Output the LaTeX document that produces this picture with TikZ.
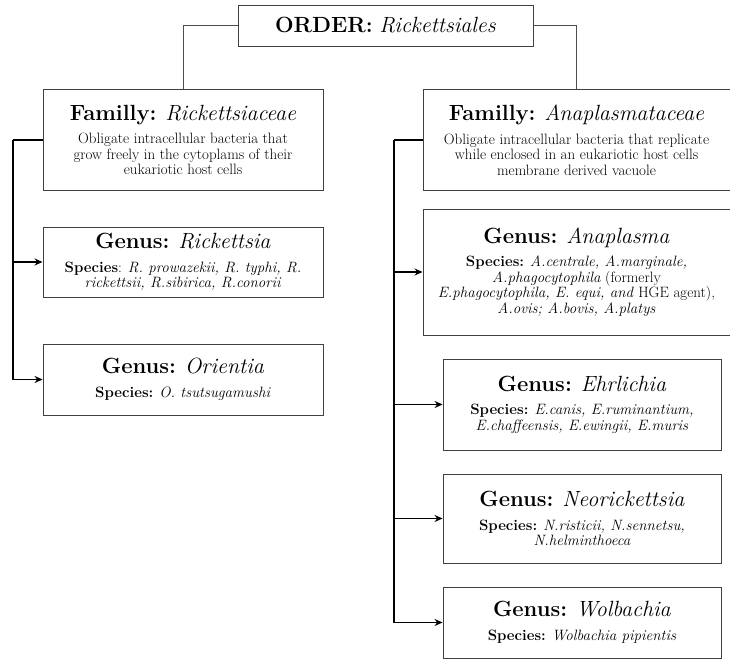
\documentclass[tikz,border=0pt]{standalone}
\usetikzlibrary{arrows.meta}

\newcommand{\headfont}{\fontsize{22}{26}\selectfont}
\newcommand{\bodyfont}{\fontsize{15}{15.5}\selectfont}

\begin{document}
\begin{tikzpicture}[x=1pt, y=-1pt,
    every node/.style = {shape=rectangle, draw=black!75, fill=white,
      align=center, inner sep=2pt, line width=0.9pt, font=\bodyfont},
    orderbox/.style = {minimum width=295pt, minimum height=41pt},
    famleft/.style = {minimum width=280pt, minimum height=101pt},
    famright/.style = {minimum width=307pt, minimum height=101pt},
    genleft/.style = {minimum width=280pt},
    genright/.style = {minimum width=278pt},
    link/.style = {draw=black!70, line width=0.9pt},
    branch/.style = {draw=black, line width=1.4pt},
    arr/.style = {branch, -{Stealth[length=8pt, width=7pt]}}]
  \useasboundingbox (0,0) rectangle (730,660);

  \node[orderbox] (order) at (385.5,25.5)
    {\headfont\textbf{ORDER:} \textit{Rickettsiales}};

  % left family
  \node[famleft] (famL) at (183,140)
    {\headfont\textbf{Familly:} \textit{Rickettsiaceae}\\[8pt]
     Obligate intracellular bacteria that\\
     grow freely in the cytoplams of their\\
     eukariotic host cells};
  \node[genleft, minimum height=70pt] (rick) at (183,262)
    {\headfont\textbf{Genus:} \textit{Rickettsia}\\[8pt]
     \textbf{Species}: \textit{R. prowazekii, R. typhi, R.}\\
     \textit{rickettsii, R.sibirica, R.conorii}};
  \node[genleft, minimum height=71pt] (orie) at (183,379.5)
    {\headfont\textbf{Genus:} \textit{Orientia}\\[8pt]
     \textbf{Species:} \textit{O. tsutsugamushi}};

  % right family
  \node[famright] (famR) at (576.5,140)
    {\headfont\textbf{Familly:} \textit{Anaplasmataceae}\\[8pt]
     Obligate intracellular bacteria that replicate\\
     while enclosed in an eukariotic host cells\\
     membrane derived vacuole};
  \node[famright, minimum height=126pt] (anap) at (576.5,272)
    {\headfont\textbf{Genus:} \textit{Anaplasma}\\[8pt]
     \textbf{Species:} \textit{A.centrale, A.marginale,}\\
     \textit{A.phagocytophila} (formerly\\
     \textit{E.phagocytophila, E. equi, and} HGE agent),\\
     \textit{A.ovis; A.bovis, A.platys}};
  \node[genright, minimum height=91pt] (ehrl) at (582,404.5)
    {\headfont\textbf{Genus:} \textit{Ehrlichia}\\[8pt]
     \textbf{Species:} \textit{E.canis, E.ruminantium,}\\
     \textit{E.chaffeensis, E.ewingii, E.muris}};
  \node[genright, minimum height=89pt] (neor) at (582,518.5)
    {\headfont\textbf{Genus:} \textit{Neorickettsia}\\[8pt]
     \textbf{Species:} \textit{N.risticii, N.sennetsu,}\\
     \textit{N.helminthoeca}};
  \node[genright, minimum height=71pt] (wolb) at (582,622.5)
    {\headfont\textbf{Genus:} \textit{Wolbachia}\\[8pt]
     \textbf{Species:} \textit{Wolbachia pipientis}};

  % connectors
  \draw[link] (order.west) -| (famL.north);
  \draw[link] (order.east) -| (famR.north);

  \coordinate (busL) at (13,140);
  \coordinate (busR) at (394,140);
  \draw[branch] (famL.west) -- (busL);
  \draw[arr] (busL) |- (rick.west);
  \draw[arr] (busL) |- (orie.west);
  \draw[branch] (famR.west) -- (busR);
  \foreach \g in {anap, ehrl, neor, wolb}
    \draw[arr] (busR) |- (\g.west);
\end{tikzpicture}
\end{document}
